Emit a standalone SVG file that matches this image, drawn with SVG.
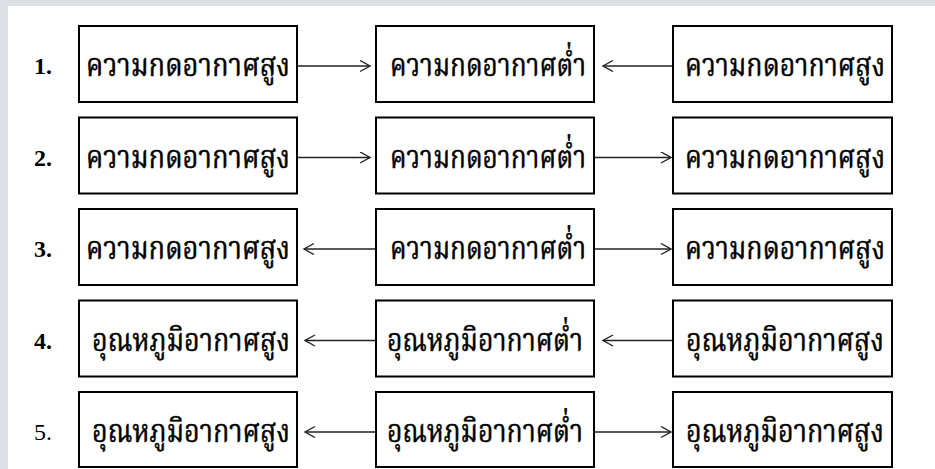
<svg xmlns="http://www.w3.org/2000/svg" width="935" height="469" viewBox="0 0 935 469">
<style>
.box{fill:#fff;stroke:#000;stroke-width:2}
.t{font-family:"Noto Serif Thai","Noto Sans Thai","Noto Sans",serif;font-size:32px;fill:#000;stroke:#000;stroke-width:0.5;text-anchor:middle}
.n{font-family:"Liberation Serif",serif;font-size:24px;fill:#000}
.b{font-weight:bold}
.c{stroke:#222;stroke-width:1.3;fill:none}
</style>
<defs>
<marker id="ah" markerUnits="userSpaceOnUse" markerWidth="14" markerHeight="14" refX="11" refY="6" orient="auto">
<path d="M1,0.5 L11,6 L1,11.5" fill="none" stroke="#222" stroke-width="1.4"/>
</marker>
</defs>
<rect width="935" height="469" fill="#dde1e6"/>
<rect x="8" y="6" width="927" height="463" fill="#fff"/>
<g id="labels">
<text class="n b" x="34" y="74">1.</text>
<text class="n b" x="34" y="165.5">2.</text>
<text class="n b" x="34" y="257">3.</text>
<text class="n b" x="34" y="348.5">4.</text>
<text class="n" x="34" y="440">5.</text>
</g>
<g id="r1b1"><rect class="box" x="79" y="26" width="218" height="76"/><text class="t" x="188" y="76" textLength="204" lengthAdjust="spacingAndGlyphs">ความกดอากาศสูง</text></g>
<g id="r1b2"><rect class="box" x="376" y="26" width="218" height="76"/><text class="t" x="488" y="76" textLength="196" lengthAdjust="spacingAndGlyphs">ความกดอากาศต่ำ</text></g>
<g id="r1b3"><rect class="box" x="673" y="26" width="219" height="76"/><text class="t" x="785" y="76" textLength="200" lengthAdjust="spacingAndGlyphs">ความกดอากาศสูง</text></g>
<g id="r2b1"><rect class="box" x="79" y="117.5" width="218" height="76"/><text class="t" x="188" y="167.5" textLength="204" lengthAdjust="spacingAndGlyphs">ความกดอากาศสูง</text></g>
<g id="r2b2"><rect class="box" x="376" y="117.5" width="218" height="76"/><text class="t" x="488" y="167.5" textLength="196" lengthAdjust="spacingAndGlyphs">ความกดอากาศต่ำ</text></g>
<g id="r2b3"><rect class="box" x="673" y="117.5" width="219" height="76"/><text class="t" x="785" y="167.5" textLength="200" lengthAdjust="spacingAndGlyphs">ความกดอากาศสูง</text></g>
<g id="r3b1"><rect class="box" x="79" y="209" width="218" height="76"/><text class="t" x="188" y="259" textLength="204" lengthAdjust="spacingAndGlyphs">ความกดอากาศสูง</text></g>
<g id="r3b2"><rect class="box" x="376" y="209" width="218" height="76"/><text class="t" x="488" y="259" textLength="196" lengthAdjust="spacingAndGlyphs">ความกดอากาศต่ำ</text></g>
<g id="r3b3"><rect class="box" x="673" y="209" width="219" height="76"/><text class="t" x="785" y="259" textLength="200" lengthAdjust="spacingAndGlyphs">ความกดอากาศสูง</text></g>
<g id="r4b1"><rect class="box" x="79" y="300.5" width="218" height="76"/><text class="t" x="191" y="350.5" textLength="198" lengthAdjust="spacingAndGlyphs">อุณหภูมิอากาศสูง</text></g>
<g id="r4b2"><rect class="box" x="376" y="300.5" width="218" height="76"/><text class="t" x="485" y="350.5" textLength="196" lengthAdjust="spacingAndGlyphs">อุณหภูมิอากาศต่ำ</text></g>
<g id="r4b3"><rect class="box" x="673" y="300.5" width="219" height="76"/><text class="t" x="785" y="350.5" textLength="198" lengthAdjust="spacingAndGlyphs">อุณหภูมิอากาศสูง</text></g>
<g id="r5b1"><rect class="box" x="79" y="392" width="218" height="75"/><text class="t" x="191" y="442" textLength="198" lengthAdjust="spacingAndGlyphs">อุณหภูมิอากาศสูง</text></g>
<g id="r5b2"><rect class="box" x="376" y="392" width="218" height="75"/><text class="t" x="485" y="442" textLength="196" lengthAdjust="spacingAndGlyphs">อุณหภูมิอากาศต่ำ</text></g>
<g id="r5b3"><rect class="box" x="673" y="392" width="219" height="75"/><text class="t" x="785" y="442" textLength="198" lengthAdjust="spacingAndGlyphs">อุณหภูมิอากาศสูง</text></g>
<g id="connectors">
<path class="c" marker-end="url(#ah)" d="M298,66 H370"/>
<path class="c" marker-end="url(#ah)" d="M672,66 H603"/>
<path class="c" marker-end="url(#ah)" d="M298,157.5 H370"/>
<path class="c" marker-end="url(#ah)" d="M595,157.5 H671"/>
<path class="c" marker-end="url(#ah)" d="M375,249 H304"/>
<path class="c" marker-end="url(#ah)" d="M595,249 H671"/>
<path class="c" marker-end="url(#ah)" d="M375,340.5 H305"/>
<path class="c" marker-end="url(#ah)" d="M672,340.5 H603"/>
<path class="c" marker-end="url(#ah)" d="M375,432 H305"/>
<path class="c" marker-end="url(#ah)" d="M595,432 H671"/>
</g>
</svg>
